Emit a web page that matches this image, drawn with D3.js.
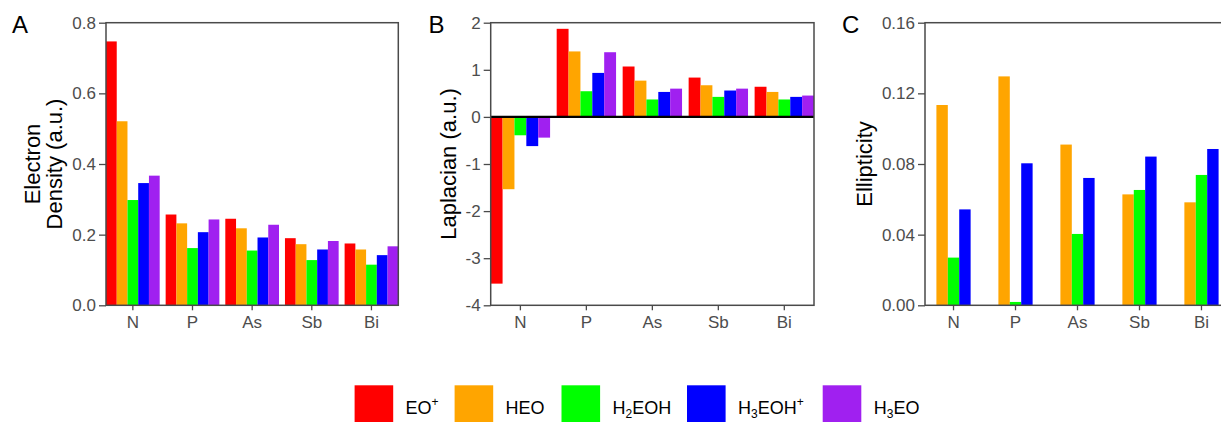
<!DOCTYPE html>
<html>
<head>
<meta charset="utf-8">
<script src="https://cdn.jsdelivr.net/npm/d3@7"></script>
<style>
  html, body { margin: 0; padding: 0; background: #fff; }
  svg { display: block; font-family: "Liberation Sans", Arial, sans-serif; }
</style>
</head>
<body>
<svg id="chart" width="1221" height="422"></svg>
<script>
// ---- data ----
const categories = ["N", "P", "As", "Sb", "Bi"];
const seriesNames = ["EO+", "HEO", "H2EOH", "H3EOH+", "H3EO"];
const seriesColors = ["#ff0000", "#ffa500", "#00ff00", "#0000ff", "#a020f0"];

// Panel A: Electron Density (a.u.), per series, order of categories
const densityEO   = [0.747, 0.257, 0.245, 0.190, 0.175];
const densityHEO  = [0.521, 0.232, 0.218, 0.173, 0.158];
const densityH2EOH= [0.298, 0.162, 0.155, 0.128, 0.115];
const densityH3EOH= [0.346, 0.207, 0.192, 0.158, 0.142];
const densityH3EO = [0.367, 0.243, 0.228, 0.182, 0.167];

// Panel B: Laplacian (a.u.)
const laplEO    = [-3.54, 1.87, 1.07, 0.835, 0.64];
const laplHEO   = [-1.535, 1.39, 0.77, 0.672, 0.53];
const laplH2EOH = [-0.39, 0.545, 0.37, 0.425, 0.37];
const laplH3EOH = [-0.62, 0.934, 0.53, 0.56, 0.425];
const laplH3EO  = [-0.44, 1.373, 0.60, 0.60, 0.453];

// Panel C: Ellipticity (EO+ and H3EO not shown)
const ellEO    = [null, null, null, null, null];
const ellHEO   = [0.1134, 0.1296, 0.091, 0.0628, 0.0583];
const ellH2EOH = [0.027, 0.0019, 0.0404, 0.0653, 0.0738];
const ellH3EOH = [0.0543, 0.0804, 0.0721, 0.0842, 0.0885];
const ellH3EO  = [null, null, null, null, null];

const ticksA = [0, 0.2, 0.4, 0.6, 0.8];
const ticksB = [-4, -3, -2, -1, 0, 1, 2];
const ticksC = [0, 0.04, 0.08, 0.12, 0.16];

const svg = d3.select("#chart");
const plotTop = 22.7, plotBottom = 305.3;
const frameColor = "#4a4a4a";
const tickTextColor = "#4d4d4d";

function panel(opts) {
  const g = svg.append("g");
  const x0 = d3.scaleBand().domain(categories).range([opts.left, opts.right])
    .paddingInner(opts.pad).paddingOuter(0);
  const x1 = d3.scaleBand().domain(seriesNames).range([0, x0.bandwidth()]).padding(0);
  const y = d3.scaleLinear().domain(opts.domain).range([plotBottom, plotTop]);
  const seriesData = opts.series;

  // bars
  seriesNames.forEach((s, si) => {
    const vals = seriesData[si];
    g.append("g").selectAll("rect")
      .data(categories.map((c, ci) => ({c, v: vals[ci]})).filter(d => d.v != null))
      .join("rect")
      .attr("x", d => x0(d.c) + x1(s))
      .attr("width", x1.bandwidth())
      .attr("y", d => y(Math.max(0, d.v)))
      .attr("height", d => Math.abs(y(d.v) - y(0)))
      .attr("fill", seriesColors[si]);
  });

  // zero line
  if (opts.zeroLine) {
    g.append("line")
      .attr("x1", opts.left).attr("x2", opts.right)
      .attr("y1", y(0)).attr("y2", y(0))
      .attr("stroke", "#000").attr("stroke-width", 2.2);
  }

  // frame
  g.append("rect")
    .attr("x", opts.left).attr("y", plotTop)
    .attr("width", opts.right - opts.left).attr("height", plotBottom - plotTop)
    .attr("fill", "none").attr("stroke", frameColor).attr("stroke-width", 1.5);

  // y axis
  const ya = g.append("g").attr("transform", `translate(${opts.left},0)`)
    .call(d3.axisLeft(y).tickValues(opts.ticks).tickFormat(opts.fmt).tickSize(7).tickPadding(3));
  ya.select(".domain").remove();
  ya.selectAll("line").attr("stroke", frameColor).attr("stroke-width", 1.3);
  ya.selectAll("text").attr("fill", tickTextColor).style("font-size", "17px")
    .attr("font-family", "Liberation Sans, Arial, sans-serif");

  // x axis
  const xa = g.append("g").attr("transform", `translate(0,${plotBottom})`)
    .call(d3.axisBottom(x0).tickSize(5).tickPadding(6));
  xa.select(".domain").remove();
  xa.selectAll("line").attr("stroke", frameColor).attr("stroke-width", 1.3);
  xa.selectAll("text").attr("fill", tickTextColor).style("font-size", "17px")
    .attr("font-family", "Liberation Sans, Arial, sans-serif");

  // y title
  const cy = (plotTop + plotBottom) / 2;
  opts.title.forEach((t, i) => {
    g.append("text")
      .attr("transform", `translate(${opts.titleX[i]},${cy}) rotate(-90)`)
      .attr("text-anchor", "middle")
      .style("font-size", "22px").attr("fill", "#000")
      .text(t);
  });

  // panel letter
  g.append("text").attr("x", opts.letterX).attr("y", 32.5)
    .style("font-size", "24px").attr("fill", "#000").text(opts.letter);
}

const hyphenFmt = d => String(d);

panel({
  left: 106, right: 398.3, pad: 0.1, domain: [0, 0.8], ticks: ticksA,
  fmt: d3.format(".1f"),
  series: [densityEO, densityHEO, densityH2EOH, densityH3EOH, densityH3EO],
  title: ["Electron", "Density (a.u.)"], titleX: [40, 62],
  letter: "A", letterX: 12
});
panel({
  left: 490.7, right: 814, pad: 0.1, domain: [-4, 2], ticks: ticksB,
  fmt: hyphenFmt, zeroLine: true,
  series: [laplEO, laplHEO, laplH2EOH, laplH3EOH, laplH3EO],
  title: ["Laplacian  (a.u.)"], titleX: [456],
  letter: "B", letterX: 428.5
});
panel({
  left: 925, right: 1230, pad: 0.08, domain: [0, 0.16], ticks: ticksC,
  fmt: d3.format(".2f"),
  series: [ellEO, ellHEO, ellH2EOH, ellH3EOH, ellH3EO],
  title: ["Ellipticity"], titleX: [871.5],
  letter: "C", letterX: 842
});

// ---- legend ----
const legendX = [354.6, 454.6, 561.5, 687, 822.7];
const legendLabels = [
  [["EO", null], ["+", "sup"]],
  [["HEO", null]],
  [["H", null], ["2", "sub"], ["EOH", null]],
  [["H", null], ["3", "sub"], ["EOH", null], ["+", "sup"]],
  [["H", null], ["3", "sub"], ["EO", null]]
];
const lg = svg.append("g");
seriesNames.forEach((s, i) => {
  lg.append("rect").attr("x", legendX[i]).attr("y", 385.3)
    .attr("width", 38.6).attr("height", 38.6).attr("fill", seriesColors[i]);
  const t = lg.append("text").attr("x", legendX[i] + 51).attr("y", 414)
    .style("font-size", "18px").attr("fill", "#000");
  let offset = 0;
  legendLabels[i].forEach(([str, kind]) => {
    const ts = t.append("tspan").text(str);
    let target = 0;
    if (kind === "sub") { target = 4; ts.style("font-size", "12px"); }
    else if (kind === "sup") { target = -8; ts.style("font-size", "12px"); }
    const dy = target - offset;
    if (dy !== 0) ts.attr("dy", dy);
    offset = target;
  });
});
</script>
</body>
</html>
